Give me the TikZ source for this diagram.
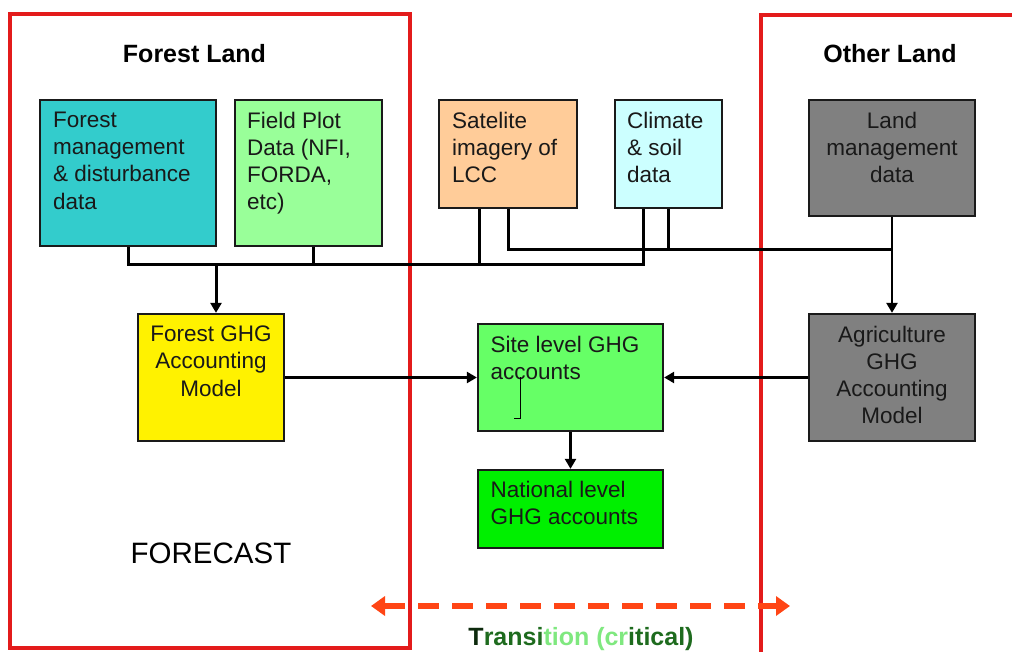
\documentclass[tikz,border=0pt]{standalone}
\usepackage{fontspec}
\setmainfont{Liberation Sans}
\usetikzlibrary{arrows.meta}

\definecolor{frame}{HTML}{E31B1B}
\definecolor{boxline}{HTML}{1A1A1A}
\definecolor{teal}{HTML}{33CCCC}
\definecolor{plotgreen}{HTML}{99FF99}
\definecolor{peach}{HTML}{FFCC99}
\definecolor{paleblue}{HTML}{CCFFFF}
\definecolor{midgray}{HTML}{808080}
\definecolor{sitegreen}{HTML}{66FF66}
\definecolor{natgreen}{HTML}{00F000}
\definecolor{transorange}{HTML}{FF4515}
\definecolor{darkgreen}{HTML}{1E6B1E}
\definecolor{nearblack}{HTML}{0D2A0D}
\definecolor{lightgreen}{HTML}{7FE87F}

\tikzset{
  databox/.style={draw=boxline, line width=2.3pt, inner sep=0pt},
  boxtext/.style={inner sep=0pt, text=black!90,
    font={\fontsize{22.5}{27.2}\selectfont}},
  lefttext/.style={boxtext, anchor=north west, align=left},
  midtext/.style={boxtext, anchor=north, align=center},
  title/.style={anchor=base, inner sep=0pt,
    font={\fontsize{25}{30}\selectfont\bfseries}},
  region/.style={draw=frame, line width=3.8pt},
  link/.style={draw=black, line width=3pt},
  flow/.style={draw=black, line width=2.4pt, -{Triangle[length=10pt,width=11pt]}},
  transarrow/.style={draw=transorange, line width=6pt,
    dash pattern=on 21pt off 13pt,
    {Triangle[length=14pt,width=19pt]}-{Triangle[length=14pt,width=19pt]}},
}

\begin{document}
\begin{tikzpicture}[x=1pt,y=-1pt]
\useasboundingbox (0,0) rectangle (1012,652);
\clip (0,0) rectangle (1012,652);

% land regions
\draw[region] (10,14) rectangle (410,648);
\draw[region] (761,15) rectangle (1030,655);

\node[title] (forestland) at (194.5,63) {Forest Land};
\node[title] (otherland) at (890,63) {Other Land};

% data sources
\node[databox, fill=teal, minimum width=176pt, minimum height=146pt] (fm) at (128,173) {};
\node[databox, fill=plotgreen, minimum width=147pt, minimum height=146pt] (fp) at (308.5,173) {};
\node[databox, fill=peach, minimum width=138pt, minimum height=108pt] (sat) at (508,154) {};
\node[databox, fill=paleblue, minimum width=107pt, minimum height=108pt] (cl) at (668.5,154) {};
\node[databox, fill=midgray, minimum width=166pt, minimum height=116pt] (lm) at (892,158) {};

% models and accounts
\node[databox, fill=yellow, minimum width=146pt, minimum height=127pt] (fg) at (211,377.5) {};
\node[databox, fill=sitegreen, minimum width=185pt, minimum height=107pt] (site) at (570.5,377.5) {};
\node[databox, fill=natgreen, minimum width=185pt, minimum height=78pt] (nat) at (570.5,509) {};
\node[databox, fill=midgray, minimum width=166pt, minimum height=127pt] (ag) at (892,377.5) {};

% box labels
\node[lefttext] (fmT) at (53,111.8) {Forest\\management\\\& disturbance\\data};
\node[lefttext] (fpT) at (247,111.8) {Field Plot\\Data (NFI,\\FORDA,\\etc)};
\node[lefttext] (satT) at (452,111.8) {Satelite\\imagery of\\LCC};
\node[lefttext] (clT) at (627,111.8) {Climate\\\& soil\\data};
\node[midtext] (lmT) at (892,111.8) {Land\\management\\data};
\node[midtext] (fgT) at (211,325.8) {Forest GHG\\Accounting\\Model};
\node[lefttext] (siteT) at (490.5,335.8) {Site level GHG\\accounts};
\node[lefttext] (natT) at (490.5,480.8) {National level\\GHG accounts};
\node[midtext] (agT) at (892,325.8) {Agriculture\\GHG\\Accounting\\Model};

% stray text cursor inside the site box
\draw[line width=0.9pt] (520,377) -- (520,418) -- (514,418);

% collector lines
\coordinate (bus1) at (0,265);
\coordinate (bus2) at (0,250);
\coordinate (tap) at (216,265);

\draw[link] (fm.south) -- (fm.south |- bus1) -- ([xshift=-25.5pt]cl.south |- bus1) -- ([xshift=-25.5pt]cl.south);
\draw[link] ([xshift=4.5pt]fp.south) -- ([xshift=4.5pt]fp.south |- bus1);
\draw[link] ([xshift=-29pt]sat.south) -- ([xshift=-29pt]sat.south |- bus1);
\draw[link] (sat.south) -- (sat.south |- bus2) -- (lm.south |- bus2);
\draw[link] (cl.south) -- (cl.south |- bus2);
\draw[link, line width=2.4pt] (lm.south) -- (lm.south |- bus2);

% flows
\draw[flow, line width=3pt] (tap) -- (tap |- fg.north);
\draw[flow] (lm.south |- bus2) -- (ag.north);
\draw[flow] (fg.east) -- (site.west);
\draw[flow] (ag.west) -- (site.east);
\draw[flow] (site.south) -- (nat.north);

\node[anchor=base, inner sep=0pt, font={\fontsize{29.5}{34}\selectfont}] (forecast) at (211,563) {FORECAST};

% transition zone
\coordinate (tl) at (371,606);
\coordinate (tr) at (790,606);
\draw[transarrow] (tl) -- (tr);
\node[title] (transition) at (581,645) {\textcolor{nearblack}{T}\textcolor{darkgreen}{ransi}\textcolor{lightgreen}{tion (cr}\textcolor{darkgreen}{itical)}};
\end{tikzpicture}
\end{document}
